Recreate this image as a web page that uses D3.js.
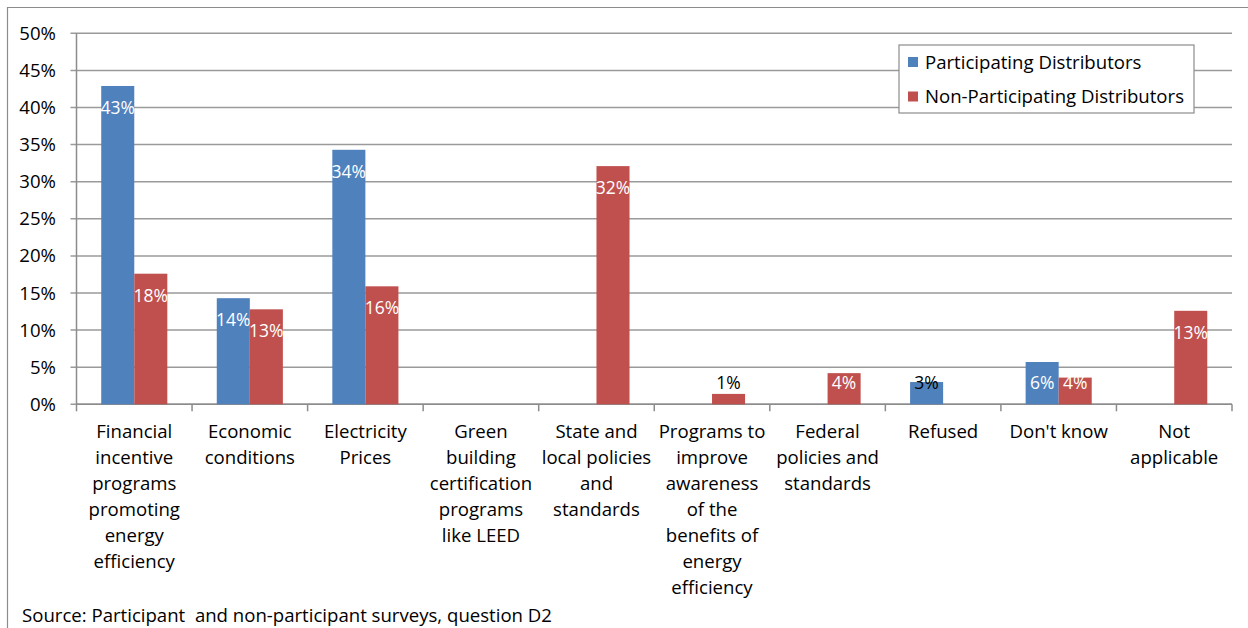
<!DOCTYPE html>
<html><head><meta charset="utf-8">
<script src="https://cdn.jsdelivr.net/npm/d3@7"></script>
<style>body{margin:0;background:#fff}svg{display:block}text{font-family:"Open Sans",Lato,sans-serif}</style>
</head><body><svg id="c" width="1248" height="628"></svg>
<script>
const categories = [
  ["Financial","incentive","programs","promoting","energy","efficiency"],
  ["Economic","conditions"],
  ["Electricity","Prices"],
  ["Green","building","certification","programs","like LEED"],
  ["State and","local policies","and","standards"],
  ["Programs to","improve","awareness","of the","benefits of","energy","efficiency"],
  ["Federal","policies and","standards"],
  ["Refused"],
  ["Don't know"],
  ["Not","applicable"]
];
const seriesNames = ["Participating Distributors","Non-Participating Distributors"];
const participating = [42.9, 14.3, 34.3, null, null, null, null, 3.0, 5.7, null];
const nonParticipating = [17.6, 12.8, 15.9, null, 32.1, 1.4, 4.2, null, 3.6, 12.6];
const yTicks = [0,5,10,15,20,25,30,35,40,45,50];
const sourceText = "Source: Participant\u00a0 and non-participant surveys, question D2";

const colors = ["#4F81BD","#C0504D"];
const FS = 18.6;
const svg = d3.select("#c");
const m = {l:76.5, r:1232, t:33.3, b:404.3};

// outer frame
svg.append("path").attr("d","M7.5,640 V7.5 H1260").attr("fill","none").attr("stroke","#8c8c8c").attr("stroke-width",1.2);

const x0 = d3.scaleBand().domain(d3.range(categories.length)).range([m.l,m.r]).paddingInner(0).paddingOuter(0);
const x1 = d3.scaleBand().domain([0,1]).range([0, x0.bandwidth()*0.572]);
const y = d3.scaleLinear().domain([0,50]).range([m.b,m.t]);

// gridlines
svg.append("g").selectAll("line").data(yTicks).join("line")
  .attr("x1",m.l-6).attr("x2",m.r).attr("y1",d=>y(d)).attr("y2",d=>y(d))
  .attr("stroke","#9a9a9a").attr("stroke-width",1.5);
// y labels
svg.append("g").selectAll("text").data(yTicks).join("text")
  .attr("x",56).attr("y",d=>y(d)).attr("dy","0.35em").attr("text-anchor","end")
  .attr("font-size",FS).attr("fill","#000").text(d=>d+"%");
// y axis
svg.append("line").attr("x1",m.l).attr("x2",m.l).attr("y1",m.t).attr("y2",m.b).attr("stroke","#8c8c8c").attr("stroke-width",1.5);
// x axis
svg.append("line").attr("x1",m.l).attr("x2",m.r).attr("y1",m.b).attr("y2",m.b).attr("stroke","#8c8c8c").attr("stroke-width",1.5);
// x ticks
svg.append("g").selectAll("line").data(d3.range(categories.length+1)).join("line")
  .attr("x1",d=>d<categories.length?x0(d):m.r).attr("x2",d=>d<categories.length?x0(d):m.r)
  .attr("y1",m.b).attr("y2",m.b+7).attr("stroke","#8c8c8c").attr("stroke-width",1.5);

// bars
const series = [participating, nonParticipating];
const gOff = (x0.bandwidth()-x1.range()[1])/2;
series.forEach((vals,si)=>{
  const data = vals.map((v,i)=>({v,i})).filter(d=>d.v!==null);
  svg.append("g").selectAll("rect").data(data).join("rect")
    .attr("x",d=>x0(d.i)+gOff+x1(si)).attr("width",x1.bandwidth())
    .attr("y",d=>y(d.v)).attr("height",d=>y(0)-y(d.v)).attr("fill",colors[si]);
  svg.append("g").selectAll("text").data(data).join("text")
    .attr("x",d=>x0(d.i)+gOff+x1(si)+x1.bandwidth()/2)
    .attr("y",d=>Math.min(y(d.v)+22,383)).attr("dy","0.35em").attr("text-anchor","middle")
    .attr("font-size",17.5).attr("fill",d=>d.v<3.3?"#000":"#fff")
    .text(d=>Math.round(d.v)+"%");
});

// category labels
categories.forEach((lines,i)=>{
  const t = svg.append("text").attr("text-anchor","middle").attr("font-size",FS).attr("fill","#000");
  lines.forEach((ln,j)=>{
    t.append("tspan").attr("x",x0(i)+x0.bandwidth()/2).attr("y",431+j*26).attr("dy","0.35em").text(ln);
  });
});

// legend
const lg = svg.append("g");
lg.append("rect").attr("x",899).attr("y",45).attr("width",295).attr("height",68).attr("fill","#fff").attr("stroke","#8c8c8c").attr("stroke-width",1.2);
seriesNames.forEach((n,i)=>{
  const cy = 62 + i*34.5;
  lg.append("rect").attr("x",908).attr("y",cy-5).attr("width",10).attr("height",10).attr("fill",colors[i]);
  lg.append("text").attr("x",925).attr("y",cy).attr("dy","0.35em").attr("font-size",FS).attr("fill","#000").text(n);
});

svg.append("text").attr("x",22).attr("y",615).attr("dy","0.35em").attr("font-size",FS).attr("fill","#000").text(sourceText);
</script></body></html>
